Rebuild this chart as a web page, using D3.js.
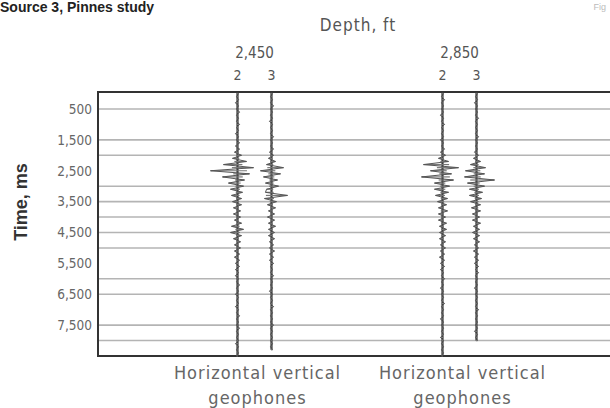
<!DOCTYPE html>
<html>
<head>
<meta charset="utf-8">
<script src="https://cdn.jsdelivr.net/npm/d3@7"></script>
<style>
  html, body { margin: 0; padding: 0; background: #fff; }
  svg { display: block; }
  .cond { font-family: "DejaVu Sans Condensed", "DejaVu Sans", sans-serif; font-stretch: condensed; }
</style>
</head>
<body>
<svg id="chart" width="610" height="408"></svg>
<script>
// depth stations and geophone components
const depths = ["2,450", "2,850"];
const geophones = ["2", "3"];

// y axis tick labels (ms) and horizontal reference lines (ms)
const timeTicks = [500, 1500, 2500, 3500, 4500, 5500, 6500, 7500];
const gridTimes = [500, 1500, 2000, 3000, 3500, 4000, 4500, 5000, 6000, 6500, 7500, 8000];

// sample interval of the traces, ms
const sampleStep = 100;

// trace amplitudes, one per sample from 0 ms
const trace2450h = [1,-1,1,-2,1,-1,2,-1,1,-1,2,-1,1,-2,1,-1,2,-2,2,
  -3,4,
  -5,9,-14,16,-27,12,-15,7,-9,6,-7,5,-6,4,-5,
  4,-4,3,-4,3,-3,4,-6,6,-7,4,-4,3,
  -3,3,-3,2,-3,2,-2,2,
  -2,1,-2,1,-1,2,-1,1,-2,1,-1,1,-2,1,-1,2,-1,1,-1,2,-1,1,-1,1,-2,1,-1,1,-1];
const trace2450v = [1,-1,1,-1,2,-1,1,-1,1,-2,1,-1,1,-1,2,-1,1,-1,2,-2,
  2,-3,4,-5,
  12,-11,9,-8,6,-6,7,-5,-6,16,-7,5,
  -4,4,-3,3,-4,3,-3,4,-3,3,-3,3,-2,
  2,-2,3,-2,2,-2,2,-1,
  1,-1,2,-1,1,-1,1,-2,1,-1,1,-1,2,-1,1,-1,1,-1,2,-1,1,-1,1,-1,1,-1,1];
const trace2850h = [1,-1,2,-1,1,-1,1,-2,1,-1,2,-1,1,-1,1,-2,1,-1,2,-2,
  3,-4,6,
  -19,16,-12,9,-21,11,-8,7,-8,6,-7,5,
  -5,4,-4,5,-4,3,-4,4,-3,4,-3,3,-3,3,
  -2,3,-2,2,-3,2,-2,2,-2,1,
  -1,2,-1,1,-2,1,-1,1,-1,2,-1,1,-1,1,-2,1,-1,1,-1,1,-2,1,-1,1,-1,1,-1];
const trace2850v = [1,-1,1,-2,1,-1,1,-1,2,-1,1,-1,1,-1,2,-1,1,-1,1,-2,
  2,-3,4,-6,
  9,-11,8,-12,18,-9,8,-7,6,-7,5,-6,
  4,-5,4,-4,3,-4,4,-3,3,-4,3,-3,3,-2,
  2,-3,2,-2,2,-2,2,-1,2,-1,
  1,-1,1,-2,1,-1,1,-1,1,-1,2,-1,1,-1,1,-1,1,-2,1,-1,1];

const traces = [
  {depth: "2,450", geo: "2", values: trace2450h},
  {depth: "2,450", geo: "3", values: trace2450v},
  {depth: "2,850", geo: "2", values: trace2850h},
  {depth: "2,850", geo: "3", values: trace2850v}
];

const svg = d3.select("#chart");

const plot = {left: 98, top: 92, bottom: 356, right: 620};

const y = d3.scaleLinear().domain([-50, 8500]).range([plot.top, plot.bottom]);
const xDepth = d3.scalePoint().domain(depths).range([254.5, 459.5]);
const xGeo = d3.scalePoint().domain(geophones).range([-17, 17]);
const amp = d3.scaleLinear().domain([-30, 30]).range([-30, 30]);

// soften the traces a little, like the scanned original
const defs = svg.append("defs");
defs.append("filter").attr("id", "soft")
  .append("feGaussianBlur").attr("stdDeviation", 0.45);

// title (mostly cropped in the original)
svg.append("text")
    .attr("x", 0).attr("y", 12)
    .attr("font-family", "Liberation Sans, Arial, sans-serif")
    .attr("font-weight", "bold")
    .attr("font-size", 14)
    .attr("fill", "#222")
    .text("Source 3, Pinnes study");

svg.append("text")
    .attr("x", 606).attr("y", 10)
    .attr("text-anchor", "end")
    .attr("font-family", "Liberation Sans, Arial, sans-serif")
    .attr("font-size", 9)
    .attr("fill", "#bbb")
    .text("Fig");

// grid lines
svg.append("g")
  .selectAll("line")
  .data(gridTimes)
  .join("line")
    .attr("x1", plot.left).attr("x2", plot.right)
    .attr("y1", d => y(d)).attr("y2", d => y(d))
    .attr("stroke", "#b4b4b4")
    .attr("stroke-width", 1.6);

// frame
svg.append("rect")
    .attr("x", plot.left).attr("y", plot.top)
    .attr("width", plot.right - plot.left)
    .attr("height", plot.bottom - plot.top)
    .attr("fill", "none")
    .attr("stroke", "#333")
    .attr("stroke-width", 2);

// y axis
const yAxis = svg.append("g")
    .attr("transform", "translate(" + plot.left + ",0)")
    .call(d3.axisLeft(y).tickValues(timeTicks).tickSize(0).tickPadding(6).tickFormat(d3.format(",")));
yAxis.select(".domain").remove();
yAxis.selectAll("text")
    .attr("class", "cond")
    .attr("font-size", 13.5)
    .attr("fill", "#666");

svg.append("text")
    .attr("transform", "translate(27,202) rotate(-90)")
    .attr("text-anchor", "middle")
    .attr("font-family", "Liberation Sans, Arial, sans-serif")
    .attr("font-weight", "bold")
    .attr("font-size", 18)
    .attr("fill", "#333")
    .text("Time, ms");

// top labels
svg.append("text")
    .attr("class", "cond")
    .attr("x", 358).attr("y", 31)
    .attr("text-anchor", "middle")
    .attr("font-size", 17)
    .attr("letter-spacing", 1)
    .attr("fill", "#555")
    .text("Depth, ft");

svg.append("g")
  .selectAll("text")
  .data(depths)
  .join("text")
    .attr("class", "cond")
    .attr("x", d => xDepth(d)).attr("y", 58)
    .attr("text-anchor", "middle")
    .attr("font-size", 15)
    .attr("fill", "#555")
    .text(d => d);

svg.append("g")
  .selectAll("text")
  .data(traces)
  .join("text")
    .attr("class", "cond")
    .attr("x", d => xDepth(d.depth) + xGeo(d.geo)).attr("y", 80)
    .attr("text-anchor", "middle")
    .attr("font-size", 14)
    .attr("fill", "#555")
    .text(d => d.geo);

// traces
const wiggle = d3.line()
    .x(d => d.x0 + amp(d.a))
    .y(d => y(d.t));

const tg = svg.append("g")
    .attr("filter", "url(#soft)")
  .selectAll("g")
  .data(traces)
  .join("g");

tg.append("line")
    .attr("x1", d => xDepth(d.depth) + xGeo(d.geo))
    .attr("x2", d => xDepth(d.depth) + xGeo(d.geo))
    .attr("y1", plot.top)
    .attr("y2", d => y((d.values.length - 1) * sampleStep))
    .attr("stroke", "#3a3a3a")
    .attr("stroke-width", 2.2);

// horizontal strokes from the zero line to each sample
tg.selectAll(".dash")
  .data(d => d.values.map((a, i) => ({x0: xDepth(d.depth) + xGeo(d.geo), a: a, t: i * sampleStep})))
  .join("line")
    .attr("class", "dash")
    .attr("x1", d => d.x0 - amp(d.a) * 0.35)
    .attr("x2", d => d.x0 + amp(d.a))
    .attr("y1", d => y(d.t))
    .attr("y2", d => y(d.t))
    .attr("stroke", "#777")
    .attr("stroke-width", 1.2);

tg.append("path")
    .attr("fill", "none")
    .attr("stroke", "#555")
    .attr("stroke-width", 1)
    .attr("d", d => {
      const x0 = xDepth(d.depth) + xGeo(d.geo);
      return wiggle(d.values.map((a, i) => ({x0: x0, a: a, t: i * sampleStep})));
    });

// bottom labels
const bottom = svg.append("g")
  .selectAll("text")
  .data(depths)
  .join("text")
    .attr("class", "cond")
    .attr("text-anchor", "middle")
    .attr("font-size", 18)
    .attr("letter-spacing", 1)
    .attr("fill", "#666");
bottom.append("tspan")
    .attr("x", d => xDepth(d) + 3).attr("y", 379)
    .text("Horizontal vertical");
bottom.append("tspan")
    .attr("x", d => xDepth(d) + 3).attr("y", 404)
    .text("geophones");
</script>
</body>
</html>
